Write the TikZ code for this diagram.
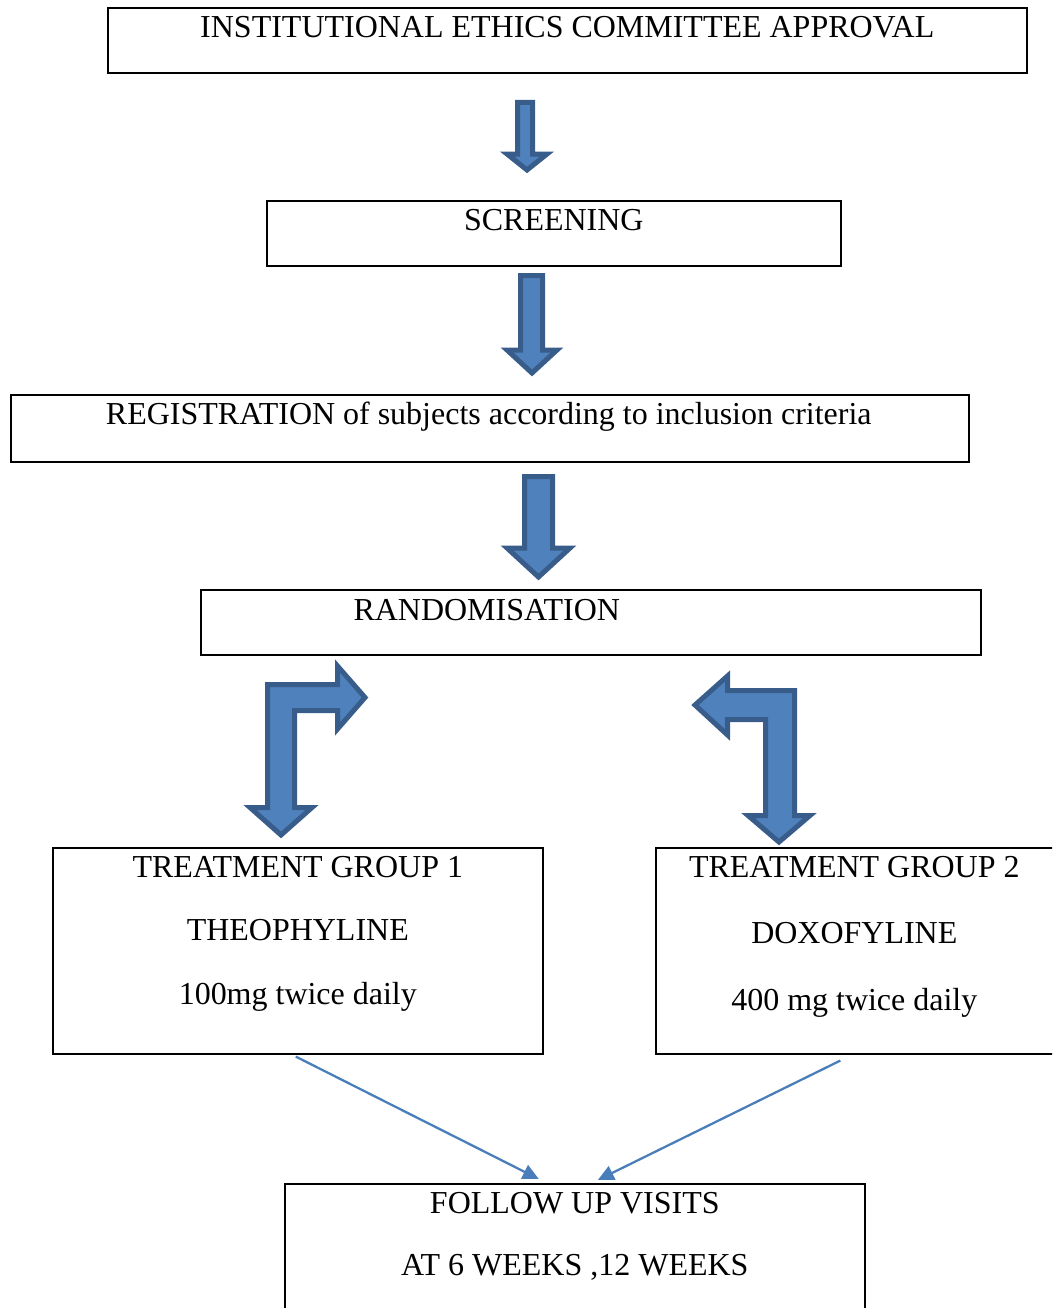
\documentclass[tikz,border=0pt]{standalone}
\usepackage{fontspec}
\setmainfont{Liberation Serif}
\usepackage{tikz}
\usetikzlibrary{calc,arrows.meta}

\definecolor{arrowfill}{HTML}{4F81BD}
\definecolor{arrowline}{HTML}{385D8A}
\definecolor{linkblue}{HTML}{4A7EBB}

\begin{document}
\begin{tikzpicture}[
        x=0.2mm, y=-0.2mm,
        box/.style={
            rectangle, draw=black, line width=0.9pt,
            inner sep=0pt, anchor=north west
        },
        boxtext/.style={anchor=base, inner sep=0pt, font=\fontsize{18.2}{22}\selectfont},
        blockarrow/.style={fill=arrowfill, draw=arrowline, line width=1mm, line join=miter},
        link/.style={draw=linkblue, line width=1.3pt, -{Triangle[length=3.2mm, width=3mm]}}
    ]

    \useasboundingbox (0,0) rectangle (1052,1308);
    \clip (0,0) rectangle (1052,1308);

    % boxes
    \node[box, minimum width=183.8mm, minimum height=13mm] (ethics) at (107,7) {};
    \node[box, minimum width=114.8mm, minimum height=13mm] (screen) at (266,200) {};
    \node[box, minimum width=191.6mm, minimum height=13.4mm] (regist) at (10,394) {};
    \node[box, minimum width=156mm, minimum height=13mm] (random) at (200,589) {};
    \node[box, minimum width=98mm, minimum height=41.2mm] (group1) at (52,847) {};
    \node[box, minimum width=79.8mm, minimum height=41.2mm] (group2) at (655,847) {};
    \node[box, minimum width=116mm, minimum height=25.8mm] (follow) at (284,1183) {};

    % texts
    \node[boxtext] (ethicsT) at ($(ethics.north)+(0,30.5)$) {INSTITUTIONAL ETHICS COMMITTEE APPROVAL};
    \node[boxtext] (screenT) at ($(screen.north)+(0,30)$) {SCREENING};
    \node[boxtext] (registT) at ($(regist.north)+(-1,30)$) {REGISTRATION of subjects according to inclusion criteria};
    \node[boxtext] (randomT) at ($(random.north)+(-104,31)$) {RANDOMISATION};

    \node[boxtext] (group1a) at ($(group1.north)+(0,30)$) {TREATMENT GROUP 1};
    \node[boxtext] (group1b) at ($(group1.north)+(0,93)$) {THEOPHYLINE};
    \node[boxtext] (group1c) at ($(group1.north)+(0,157)$) {100mg twice daily};

    \node[boxtext] (group2a) at ($(group2.north)+(-1,30)$) {TREATMENT GROUP 2};
    \node[boxtext] (group2b) at ($(group2.north)+(-1,96)$) {DOXOFYLINE};
    \node[boxtext] (group2c) at ($(group2.north)+(-1,163)$) {400 mg twice daily};

    \node[boxtext] (followa) at ($(follow.north)+(0,30)$) {FOLLOW UP VISITS};
    \node[boxtext] (followb) at ($(follow.north)+(0,92)$) {AT 6 WEEKS ,12 WEEKS};

    % block arrows
    \draw[blockarrow] (517.5,102.5) -- (532.5,102.5) -- (532.5,154) -- (547,154) -- (527,170)
        -- (507,154) -- (517.5,154) -- cycle;
    \draw[blockarrow] (520.5,275.5) -- (542.5,275.5) -- (542.5,350) -- (557,350) -- (532,373)
        -- (507,350) -- (520.5,350) -- cycle;
    \draw[blockarrow] (524.5,476.5) -- (552.5,476.5) -- (552.5,548) -- (570,548) -- (538.5,577)
        -- (507,548) -- (524.5,548) -- cycle;

    % bent arrows below randomisation
    \draw[blockarrow] (267.5,684.5) -- (337.5,684.5) -- (337.5,666) -- (365,697.5) -- (337.5,729)
        -- (337.5,710.5) -- (294.5,710.5) -- (294.5,807.5) -- (312,807.5) -- (281,835)
        -- (250,807.5) -- (267.5,807.5) -- cycle;
    \draw[blockarrow] (794.5,690.5) -- (794.5,815.5) -- (810,815.5) -- (779,842) -- (748,815.5)
        -- (765.5,815.5) -- (765.5,719.5) -- (727.5,719.5) -- (727.5,735) -- (695,705)
        -- (727.5,676) -- (727.5,690.5) -- cycle;

    % links to follow up
    \draw[link] ($(group1.south)+(-2,2)$) -- ($(follow.north)+(-36,-4)$);
    \draw[link] ($(group2.south)+(-15,6)$) -- ($(follow.north)+(23,-3)$);

\end{tikzpicture}
\end{document}
